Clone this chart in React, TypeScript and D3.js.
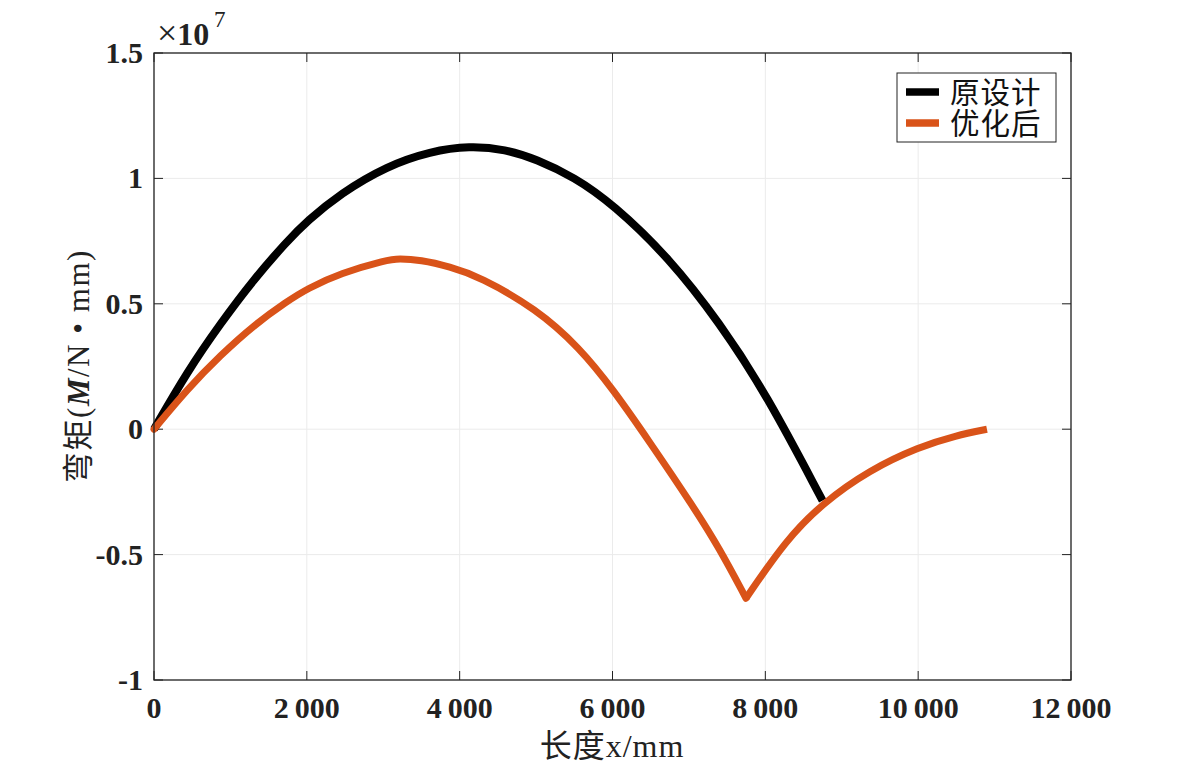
import React from "react";
import * as d3 from "d3";

// x in mm, M in units of 1e6 N·mm
const origX = [0, 436, 871, 1307, 1743, 2004, 2440, 3050, 3617, 4131, 4600, 5002, 5500, 6004, 6745, 7399, 8009, 8749];
const origM = [0, 2.3, 4.22, 5.98, 7.5, 8.3, 9.4, 10.5, 11.08, 11.3, 11.16, 10.77, 10.05, 8.98, 6.82, 4.25, 1.42, -2.85];

const optX1 = [0, 436, 871, 1307, 1743, 2004, 2440, 3050, 3200, 3486, 3869, 4261, 5002, 5569, 6004, 6484, 7050, 7399, 7747];
const optM1 = [0, 1.6, 2.95, 4.15, 5.1, 5.6, 6.22, 6.75, 6.8, 6.75, 6.48, 6.08, 4.8, 3.25, 1.6, -0.5, -3.05, -4.75, -6.74];
const optX2 = [7747, 8270, 8749, 9361, 10013, 10500, 10900];
const optM2 = [-6.74, -4.42, -2.95, -1.63, -0.7, -0.25, 0];

const xTicks = [0, 2000, 4000, 6000, 8000, 10000, 12000];
const yTicks = [-1, -0.5, 0, 0.5, 1, 1.5]; // ×1e7
const legendLabels = ["原设计", "优化后"];
const colors = ["#000000", "#D95319"];

const W = 1184, H = 772;
const L = 154, R = 1071, T = 53, B = 680;
const FONT = '"Liberation Serif", "Times New Roman", "Noto Sans CJK SC", serif';

function fmtX(v: number) {
  if (v < 1000) return String(v);
  const s = String(v);
  return s.slice(0, s.length - 3) + "\u2009" + s.slice(s.length - 3);
}

export default function App() {
  const x = d3.scaleLinear().domain([0, 12000]).range([L, R]);
  const y = d3.scaleLinear().domain([-1, 1.5]).range([B, T]);
  const line = d3
    .line<[number, number]>()
    .x((d) => x(d[0]))
    .y((d) => y(d[1] / 10))
    .curve(d3.curveBasis);

  const orig = origX.map((v, i) => [v, origM[i]] as [number, number]);
  const opt1 = optX1.map((v, i) => [v, optM1[i]] as [number, number]);
  const opt2 = optX2.map((v, i) => [v, optM2[i]] as [number, number]);

  const tickLen = 9;
  return (
    <svg width={W} height={H} style={{ position: "absolute", left: 0, top: 0, background: "#fff" }} fontFamily={FONT}>
      <rect x={0} y={0} width={W} height={H} fill="#fff" />
      {/* grid */}
      {xTicks.map((t) => (
        <line key={"gx" + t} x1={x(t)} x2={x(t)} y1={T} y2={B} stroke="#ebebeb" strokeWidth={1} />
      ))}
      {yTicks.map((t) => (
        <line key={"gy" + t} x1={L} x2={R} y1={y(t)} y2={y(t)} stroke="#ebebeb" strokeWidth={1} />
      ))}
      {/* ticks */}
      {xTicks.map((t) => (
        <g key={"tx" + t}>
          <line x1={x(t)} x2={x(t)} y1={B} y2={B - tickLen} stroke="#222" strokeWidth={1} />
          <line x1={x(t)} x2={x(t)} y1={T} y2={T + tickLen} stroke="#222" strokeWidth={1} />
        </g>
      ))}
      {yTicks.map((t) => (
        <g key={"ty" + t}>
          <line x1={L} x2={L + tickLen} y1={y(t)} y2={y(t)} stroke="#222" strokeWidth={1} />
          <line x1={R} x2={R - tickLen} y1={y(t)} y2={y(t)} stroke="#222" strokeWidth={1} />
        </g>
      ))}
      {/* data */}
      <path d={line(orig) || ""} fill="none" stroke={colors[0]} strokeWidth={8} strokeLinejoin="round" />
      <path d={line(opt1) || ""} fill="none" stroke={colors[1]} strokeWidth={7} strokeLinejoin="round" strokeLinecap="round" />
      <path d={line(opt2) || ""} fill="none" stroke={colors[1]} strokeWidth={7} strokeLinejoin="round" strokeLinecap="butt" />
      {/* axes box */}
      <rect x={L} y={T} width={R - L} height={B - T} fill="none" stroke="#222" strokeWidth={1.3} />
      {/* tick labels */}
      {xTicks.map((t) => (
        <text key={"lx" + t} x={x(t)} y={718} textAnchor="middle" fontSize={30} fontWeight="bold" fill="#222">
          {fmtX(t)}
        </text>
      ))}
      {yTicks.map((t) => (
        <text key={"ly" + t} x={143} y={y(t) + 10} textAnchor="end" fontSize={30} fontWeight="bold" fill="#222">
          {String(t)}
        </text>
      ))}
      {/* exponent */}
      <text x={157} y={45} fill="#222">
        <tspan fontSize={36}>×</tspan>
        <tspan fontSize={32} fontWeight="bold">10</tspan>
      </text>
      <text x={214} y={27} fontSize={23} fill="#222">7</text>
      {/* axis labels */}
      <text x={612} y={757} textAnchor="middle" fontSize={32} letterSpacing={1} fill="#222">
        长度x/mm
      </text>
      <text transform={`translate(89,366) rotate(-90)`} textAnchor="middle" fontSize={31} letterSpacing={1.5} fill="#222">
        <tspan>弯矩(</tspan>
        <tspan fontWeight="bold" fontStyle="italic">M</tspan>
        <tspan>/N • mm)</tspan>
      </text>
      {/* legend */}
      <rect x={897} y={73} width={159} height={69} fill="#fff" stroke="#222" strokeWidth={1} />
      {legendLabels.map((lab, i) => (
        <g key={lab}>
          <line x1={906} x2={939} y1={92 + i * 31} y2={92 + i * 31} stroke={colors[i]} strokeWidth={7.5} />
          <text x={950} y={103 + i * 31} fontSize={29.5} letterSpacing={1} fill="#111">
            {lab}
          </text>
        </g>
      ))}
    </svg>
  );
}
